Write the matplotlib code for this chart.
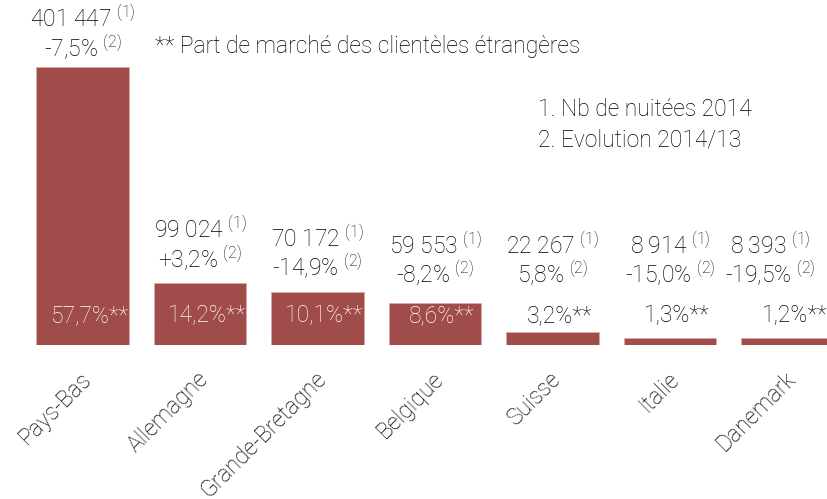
import matplotlib
matplotlib.use("Agg")
import matplotlib.pyplot as plt
from matplotlib.transforms import ScaledTranslation

# ---- data ----
pays = ["Pays-Bas", "Allemagne", "Grande-Bretagne", "Belgique", "Suisse", "Italie", "Danemark"]
nuitees_labels = ["401 447", "99 024", "70 172", "59 553", "22 267", "8 914", "8 393"]
evolution_labels = ["-7,5%", "+3,2%", "-14,9%", "-8,2%", "5,8%", "-15,0%", "-19,5%"]
part_marche_labels = ["57,7%**", "14,2%**", "10,1%**", "8,6%**", "3,2%**", "1,3%**", "1,2%**"]
# bar heights as drawn in the chart (nuitées scale)
bar_heights = [401447, 89500, 77000, 60600, 19500, 10100, 10100]

FONT = ["Roboto", "DejaVu Sans"]
plt.rcParams["font.family"] = FONT
plt.rcParams["font.weight"] = "light"
plt.rcParams["mathtext.default"] = "regular"

BAR = "#A04C4B"
TXT = "#000000"
FS = 16.5

fig = plt.figure(figsize=(8.27, 4.99), dpi=100)
ax = fig.add_axes([0, 0.308, 1, 0.692])
x = list(range(len(pays)))
ax.bar(x, bar_heights, width=0.79, color=BAR, edgecolor="#D9A9A9", linewidth=0.6)
ax.set_xlim(-0.702, 6.336)
ax.set_ylim(0, 401447 * 345.3 / 278)
for s in ax.spines.values():
    s.set_visible(False)
ax.set_xticks([])
ax.set_yticks([])

floor, ceil = 67000, 393900
renderer = fig.canvas.get_renderer()
right_limit = 815
for i, h in enumerate(bar_heights):
    anchor = min(max(h, floor), ceil)
    t1 = ax.annotate(nuitees_labels[i] + r" $^{(1)}$", (i, anchor), xytext=(0, 32.5),
                     textcoords="offset points", ha="center", va="baseline",
                     fontsize=FS, color=TXT, fontweight="light")
    t2 = ax.annotate(evolution_labels[i] + r" $^{(2)}$", (i, anchor), xytext=(0, 12),
                     textcoords="offset points", ha="center", va="baseline",
                     fontsize=FS, color=TXT, fontweight="light")
    right = max(t1.get_window_extent(renderer).x1, t2.get_window_extent(renderer).x1)
    if right > right_limit:
        shift = (right_limit - right) * 72 / fig.dpi
        t1.set_position((shift, 32.5))
        t2.set_position((shift, 12))
    inside = h > 40000
    ax.text(i + 0.06, 42300, part_marche_labels[i], ha="center", va="center",
            fontsize=FS, color="white" if inside else TXT, fontweight="light")
    off = ScaledTranslation(0.05, -0.30, fig.dpi_scale_trans)
    ax.text(i, 0, pays[i], rotation=45, ha="right", va="center",
            rotation_mode="anchor", transform=ax.transData + off,
            fontsize=FS, color=TXT, fontweight="light", clip_on=False)

fig.text(0.187, 0.906, "** Part de marché des clientèles étrangères",
         ha="left", va="center", fontsize=FS, color=TXT, fontweight="light")
fig.text(0.651, 0.780, "1. Nb de nuitées 2014", ha="left", va="center",
         fontsize=FS, color=TXT, fontweight="light")
fig.text(0.651, 0.719, "2. Evolution 2014/13", ha="left", va="center",
         fontsize=FS, color=TXT, fontweight="light")

fig.savefig("out.png", dpi=100)
